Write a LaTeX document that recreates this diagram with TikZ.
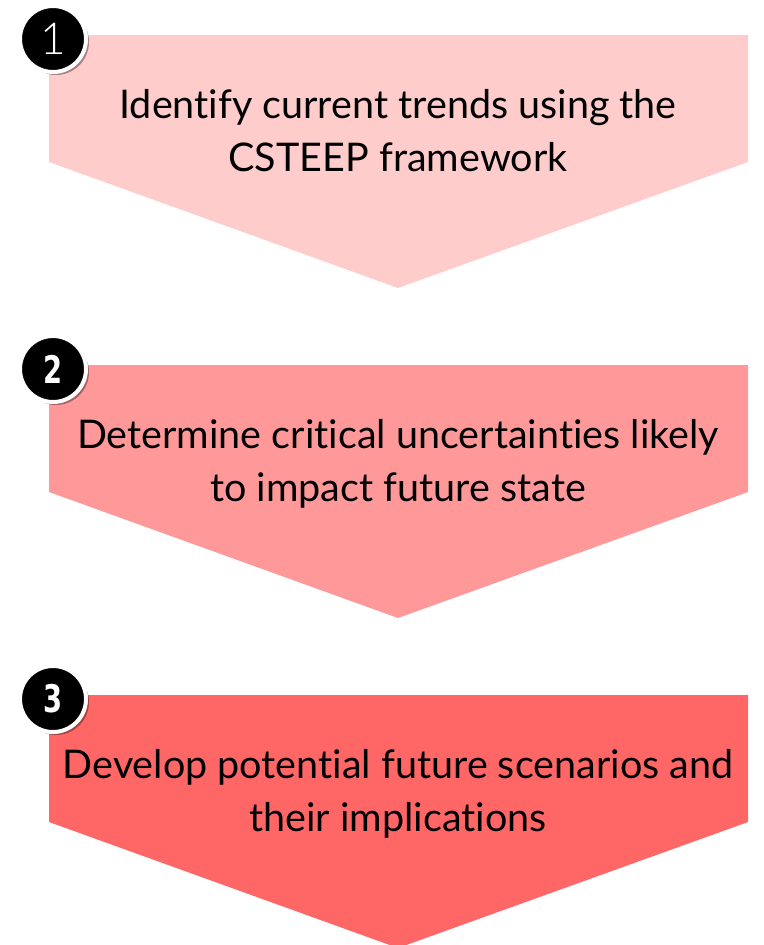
\documentclass[tikz,border=0pt]{standalone}
\usepackage{fontspec}
\setmainfont{Lato}[Ligatures={NoCommon}]
\newfontfamily\numfont[FakeStretch=0.72]{DejaVu Sans}
\newfontfamily\onefont{Lato Light}
\usetikzlibrary{shadows}
\definecolor{cA}{HTML}{FFCCCC}
\definecolor{cB}{HTML}{FF9999}
\definecolor{cC}{HTML}{FF6666}
\tikzset{
  stepbody/.style={fill=#1},
  steptext/.style={align=center, font=\fontsize{39.5}{53}\selectfont, text=black, anchor=base, inner sep=0pt},
  badge/.style={circle, fill=black, draw=white, line width=4pt, minimum size=66pt, inner sep=0pt, text=white,
    drop shadow={shadow xshift=3pt, shadow yshift=-3pt, opacity=0.35, fill=black}},
}
\begin{document}
\begin{tikzpicture}[x=1pt,y=-1pt]
\useasboundingbox (0,0) rectangle (763,945);
% chevrons
\foreach \c/\o in {cA/0, cB/330, cC/660}{
  \fill[stepbody=\c] (49,35+\o) -- (748,35+\o) -- (748,162+\o) -- (398,288+\o) -- (49,162+\o) -- cycle;
}
\node[steptext] (t1) at (398,171) {Identify current trends using the\\CSTEEP framework};
\node[steptext] (t2) at (398,501) {Determine critical uncertainties likely\\to impact future state};
\node[steptext] (t3) at (398,831) {Develop potential future scenarios and\\their implications};
\node[badge, font=\onefont\fontsize{44}{44}\selectfont] (n1) at (53,39) {1};
\node[badge, font=\numfont\bfseries\fontsize{38}{38}\selectfont] (n2) at (53,369) {2};
\node[badge, font=\numfont\bfseries\fontsize{38}{38}\selectfont] (n3) at (53,699) {3};
\end{tikzpicture}
\end{document}
